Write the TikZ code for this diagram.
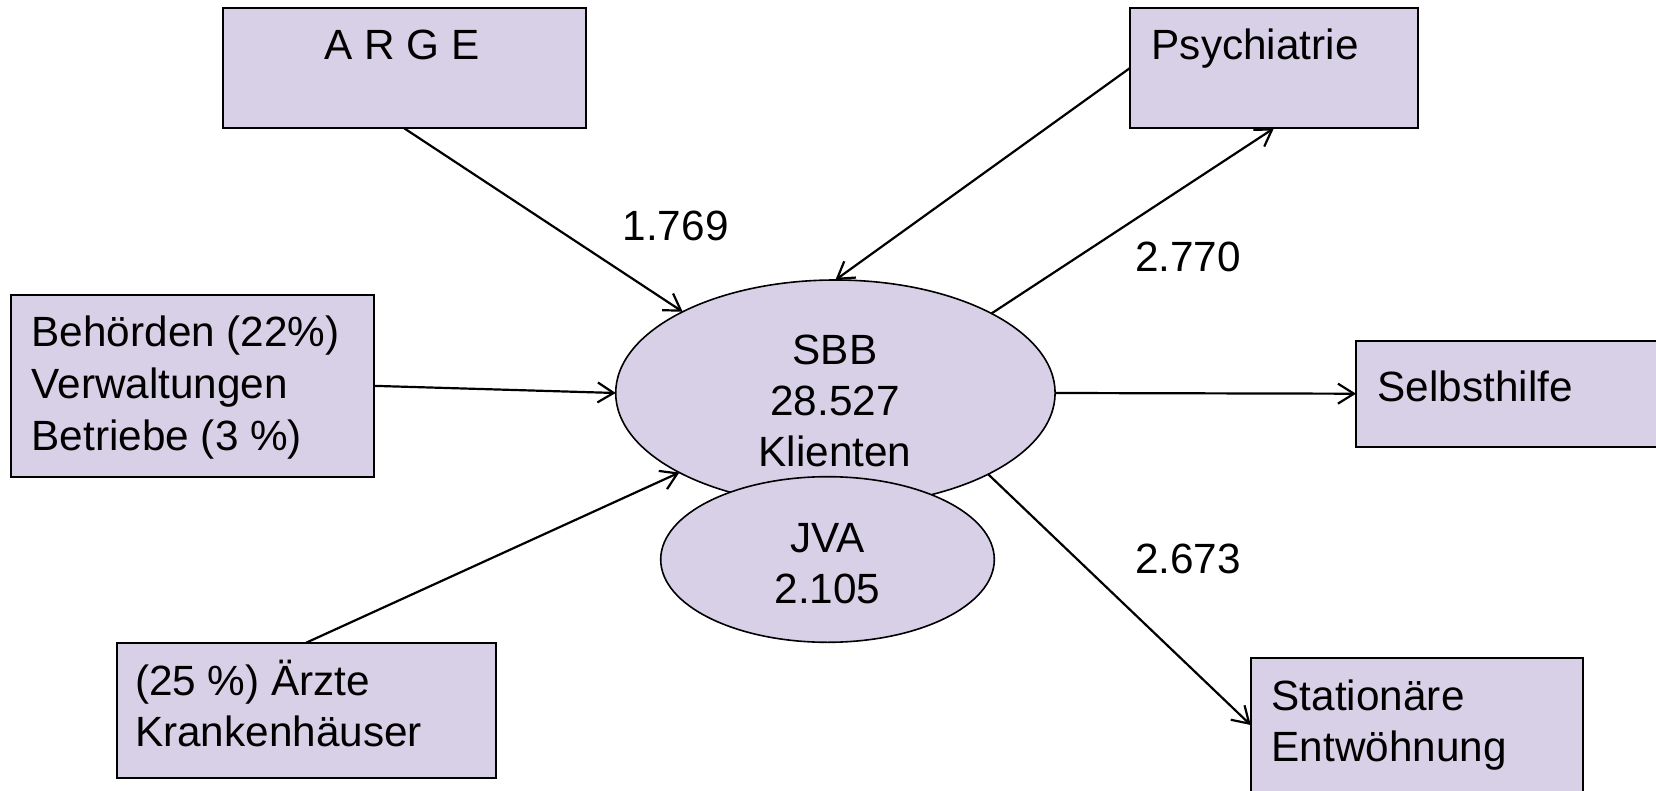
\documentclass[tikz,border=0pt]{standalone}
\usepackage{fontspec}
\setmainfont{Liberation Sans}
\usetikzlibrary{shapes.geometric,arrows.meta}
\definecolor{lav}{RGB}{216,208,230}
\begin{document}
\begin{tikzpicture}[x=1pt,y=-1pt,
  box/.style={draw=black, fill=lav, line width=2pt, rectangle, inner sep=0pt, outer sep=0pt, anchor=north west},
  oval/.style={draw=black, fill=lav, line width=1.6pt, ellipse, inner sep=0pt, outer sep=0pt},
  txt/.style={font=\fontsize{42.3}{51.7}\selectfont, inner sep=0pt, outer sep=0pt, align=left, anchor=base west},
  ctxt/.style={font=\fontsize{42.3}{51.3}\selectfont, inner sep=0pt, outer sep=0pt, align=center, anchor=base},
  conn/.style={line width=2.2pt, -{Straight Barb[length=16pt,width=20pt,line width=2.2pt]}}
]
\useasboundingbox (0,0) rectangle (1656,791);
\fill[white] (0,0) rectangle (1656,791);

% boxes
\node[box, minimum width=363pt, minimum height=120.6pt] (arge) at (222.7,7.7) {};
\node[box, minimum width=287.7pt, minimum height=120.6pt] (psych) at (1130,7.7) {};
\node[box, minimum width=363pt, minimum height=181.7pt] (beh) at (11,295) {};
\node[box, minimum width=320pt, minimum height=106pt] (selbst) at (1356,340.7) {};
\node[box, minimum width=379pt, minimum height=135.6pt] (aerzte) at (116.7,642.7) {};
\node[box, minimum width=332.6pt, minimum height=133.4pt] (stat) at (1250.7,658.3) {};

% ellipses
\node[oval, minimum width=439.4pt, minimum height=226pt] (sbb) at (835.4,393) {};
\node[oval, minimum width=333.6pt, minimum height=165.6pt] (jva) at (827.5,559.5) {};

% texts (base anchor = baseline of the last line)
\node[txt, anchor=base] (argeT) at (402,59.3) {A R G E};
\node[txt] (psychT) at (1151.7,60) {Psychiatrie};
\node[txt] (behT) at (31.7,450.1) {Behörden (22\%)\\Verwaltungen\\Betriebe (3 \%)};
\node[txt] (selbstT) at (1377.7,401.7) {Selbsthilfe};
\node[txt] (aerzteT) at (135,746.7) {(25 \%) Ärzte\\Krankenhäuser};
\node[txt] (statT) at (1271.7,761.7) {Stationäre\\Entwöhnung};
\node[ctxt] (sbbT) at (835,466.9) {SBB\\28.527\\Klienten};
\node[ctxt, font=\fontsize{42.3}{50.3}\selectfont] (jvaT) at (827.5,603) {JVA\\2.105};
\node[txt] (l1) at (622.7,241) {1.769};
\node[txt] (l2) at (1135,271.7) {2.770};
\node[txt] (l3) at (1135,573.3) {2.673};

% connectors
\draw[conn] (arge.south) -- (sbb.152.6);
\draw[conn] (psych.west) -- (sbb.north);
\draw[conn] (sbb.27.3) -- (psych.south);
\draw[conn] (beh.east) -- (sbb.west);
\draw[conn] (aerzte.north) -- (sbb.207);
\draw[conn] (sbb.east) -- (selbst.west);
\draw[conn] (sbb.332.4) -- (stat.west);
\end{tikzpicture}
\end{document}
